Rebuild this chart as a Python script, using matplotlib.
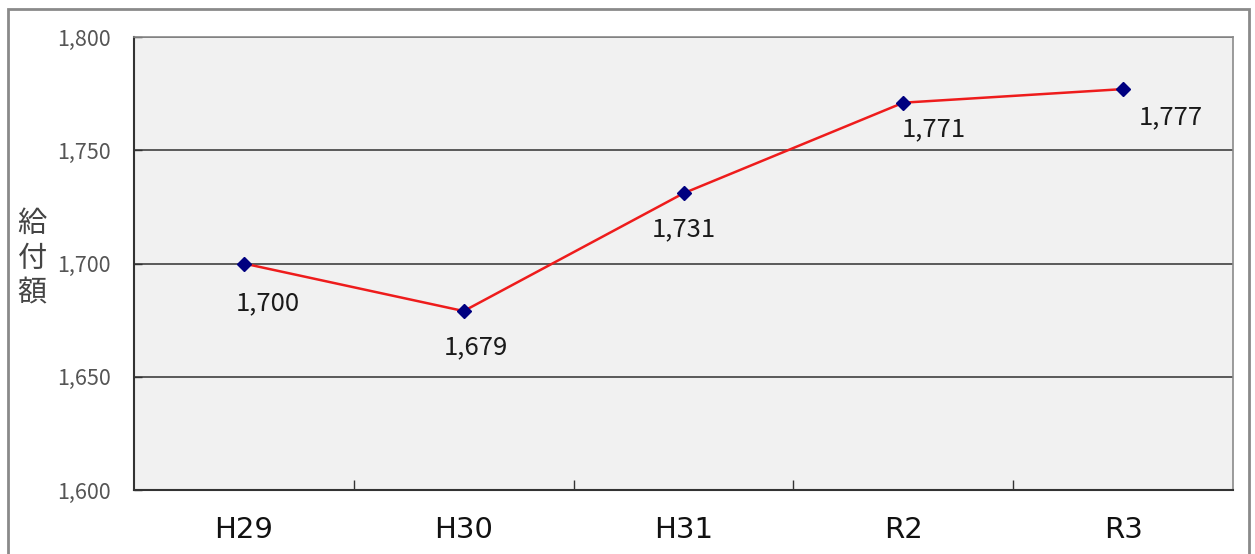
import matplotlib
matplotlib.use("Agg")
import matplotlib.pyplot as plt
from matplotlib.patches import Rectangle
from matplotlib.ticker import FuncFormatter, FixedLocator

plt.rcParams['font.family'] = ['Noto Sans CJK JP', 'DejaVu Sans']

# Benefit amounts by fiscal year
years = ["H29", "H30", "H31", "R2", "R3"]
amounts = [1700, 1679, 1731, 1771, 1777]
y_ticks = [1600, 1650, 1700, 1750, 1800]

# Label offsets (pixels) for each value label relative to its point
label_offsets = [(24, -40), (12, -36), (0, -36), (31, -27), (48, -28)]

W, H = 1255, 554
fig = plt.figure(figsize=(W / 100, H / 100), dpi=100)
fig.patch.set_facecolor("white")

# Outer frame around the whole chart
fig.add_artist(Rectangle((8 / W, -0.05), (1249 - 8) / W, (H - 9) / H + 0.05,
                         transform=fig.transFigure, fill=False,
                         edgecolor="#8a8a8a", linewidth=2, clip_on=False))

left, right, top, bottom = 134, 1233, 37, 490
ax = fig.add_axes([left / W, 1 - bottom / H, (right - left) / W, (bottom - top) / H])
ax.set_facecolor("#f1f1f1")

x = list(range(len(years)))
ax.plot(x, amounts, color="#ee1c1c", linewidth=1.8, zorder=3)
ax.plot(x, amounts, linestyle="none", marker="D", markersize=7,
        color="#000080", zorder=4)

for xi, v, (dx, dy) in zip(x, amounts, label_offsets):
    ax.annotate(f"{v:,}", (xi, v), xytext=(dx, dy), textcoords="offset pixels",
                ha="center", va="center", fontsize=18.5, color="#1a1a1a")

ax.set_xlim(-0.5, len(years) - 0.5)
ax.set_ylim(y_ticks[0], y_ticks[-1])

ax.yaxis.set_major_locator(FixedLocator(y_ticks))
ax.yaxis.set_major_formatter(FuncFormatter(lambda v, p: f"{int(v):,}"))
ax.tick_params(axis="y", direction="in", length=6, width=1, color="#333333",
               labelsize=15.5, labelcolor="#555555", pad=17)
ax.grid(axis="y", color="#404040", linewidth=1.2, zorder=1)
ax.set_axisbelow(True)

# Category labels centred, tick marks at category boundaries
ax.set_xticks(x)
ax.set_xticklabels(years, fontsize=21, color="#111111", family="DejaVu Sans")
ax.tick_params(axis="x", which="major", length=0, pad=19)
ax.set_xticks([i + 0.5 for i in range(len(years) - 1)], minor=True)
ax.tick_params(axis="x", which="minor", direction="in", length=7, width=1,
               color="#333333")

for s in ("left", "bottom"):
    ax.spines[s].set_color("#333333")
    ax.spines[s].set_linewidth(1.5)
for s in ("top", "right"):
    ax.spines[s].set_color("#8a8a8a")
    ax.spines[s].set_linewidth(1.2)

# Vertical stacked axis title
fig.text(32 / W, 1 - 259 / H, "給\n付\n額", ha="center", va="center",
         fontsize=21, color="#444444", linespacing=1.2)

fig.savefig("out.png", dpi=100, facecolor="white")
